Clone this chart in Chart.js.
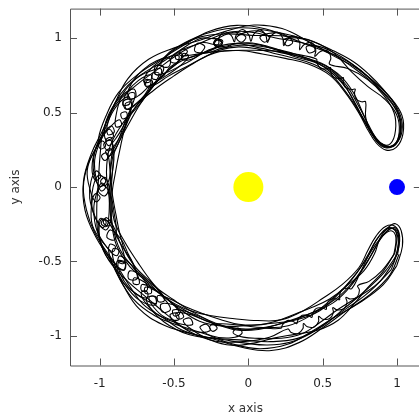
<!DOCTYPE html>
<html>
<head>
<meta charset="utf-8">
<script src="https://cdn.jsdelivr.net/npm/chart.js@4.4.0/dist/chart.umd.min.js"></script>
<style>
html, body { margin: 0; padding: 0; overflow: hidden; background: #fff; }
#wrap { width: 440px; height: 416px; }
</style>
</head>
<body>
<div id="wrap"><canvas id="orbitChart"></canvas></div>
<script>
// Readings: [angle from the sun in degrees, distance from the sun]
// one list per pass along the horseshoe (outer passes run clockwise, inner ones back)
const outerPass1 = [[336,1.11],[328,1.12],[318,1.09],[308,1.06],[298,1.07],[288,1.10],[278,1.11],[268,1.08],[258,1.05],[248,1.06],[238,1.09],[228,1.10],[218,1.07],[208,1.05],[198,1.08],[188,1.11],[178,1.11],[168,1.08],[158,1.05],[148,1.06],[138,1.09],[128,1.09],[118,1.06],[108,1.04],[98,1.06],[88,1.09],[78,1.09],[68,1.06],[58,1.05],[48,1.08],[40,1.10],[32,1.13],[25,1.14],[19,1.10],[15,1.03],[15,0.96],[19,0.91],[26,0.89]];
const innerPass1 = [[26,0.89],[34,0.895],[44,0.91],[54,0.93],[64,0.92],[74,0.90],[84,0.90],[94,0.92],[104,0.93],[114,0.91],[124,0.90],[134,0.91],[144,0.93],[154,0.92],[164,0.90],[174,0.90],[184,0.92],[194,0.93],[204,0.91],[214,0.90],[224,0.91],[234,0.93],[244,0.92],[254,0.90],[264,0.89],[274,0.90],[284,0.92],[294,0.91],[304,0.90],[314,0.91],[324,0.92],[332,0.91],[339,0.92],[344,0.96],[345,1.02],[342,1.07],[336,1.10]];
const outerPass2 = [[336,1.10],[328,1.08],[318,1.05],[308,1.04],[298,1.06],[288,1.07],[278,1.05],[268,1.03],[258,1.04],[248,1.07],[238,1.07],[228,1.04],[224.5,1.01],[226,0.98],[227.5,1.01],[224,1.04],[216,1.06],[208,1.03],[204.5,1.0],[206,0.97],[207.5,1.0],[204,1.03],[196,1.06],[188,1.05],[182,1.02],[178.5,0.99],[180,0.96],[181.5,0.99],[178,1.02],[170,1.05],[162,1.04],[156,1.01],[152.5,0.98],[154,0.95],[155.5,0.98],[152,1.01],[144,1.05],[136,1.05],[130,1.02],[126.5,0.99],[128,0.96],[129.5,0.99],[126,1.02],[118,1.05],[108,1.06],[98,1.04],[88,1.02],[78,1.04],[68,1.07],[58,1.07],[48,1.04],[40,1.05],[33,1.09],[26,1.11],[20,1.08],[16,1.02],[17,0.96],[21,0.92],[28,0.91]];
const innerPass2 = [[28,0.91],[36,0.92],[46,0.95],[56,0.97],[66,0.95],[76,0.93],[86,0.94],[96,0.97],[106,0.96],[114,0.94],[117.5,0.97],[116,1.0],[114.5,0.97],[118,0.94],[126,0.93],[134,0.95],[140,0.96],[143.5,0.99],[142,1.02],[140.5,0.99],[144,0.96],[152,0.94],[160,0.93],[166,0.95],[169.5,0.98],[168,1.01],[166.5,0.98],[170,0.95],[178,0.93],[186,0.94],[192,0.96],[195.5,0.99],[194,1.02],[192.5,0.99],[196,0.96],[204,0.94],[212,0.93],[218,0.95],[221.5,0.98],[220,1.01],[218.5,0.98],[222,0.95],[230,0.93],[240,0.94],[250,0.96],[260,0.95],[270,0.93],[280,0.93],[290,0.95],[300,0.96],[310,0.94],[320,0.93],[328,0.93],[336,0.94],[341,0.97],[343,1.01],[341,1.05],[335,1.08]];
const outerPass3 = [[335,1.08],[328,1.06],[322,1.03],[318,0.99],[317.1,1.02],[314.75,1.04],[312.4,1.02],[311.5,0.99],[310.6,1.02],[308.25,1.04],[305.9,1.02],[305,0.99],[304.1,1.02],[301.75,1.04],[299.4,1.02],[298.5,0.99],[297.6,1.02],[295.25,1.04],[292.9,1.02],[292,0.99],[291.1,1.02],[288.75,1.04],[286.4,1.02],[285.5,0.99],[278,1.02],[268,1.04],[258,1.06],[248,1.05],[238,1.02],[228,1.01],[218,1.03],[208,1.06],[198,1.06],[188,1.03],[178,1.01],[168,1.02],[158,1.05],[148,1.05],[138,1.02],[128,1.0],[118,1.01],[108,1.02],[102,0.98],[101.1,1.025],[98.75,1.055],[96.4,1.025],[95.5,0.98],[94.6,1.025],[92.25,1.06],[89.9,1.025],[89,0.98],[88.1,1.025],[85.75,1.06],[83.4,1.025],[82.5,0.98],[81.6,1.025],[79.25,1.06],[76.9,1.025],[76,0.98],[75.1,1.03],[72.75,1.06],[70.4,1.03],[69.5,0.985],[68.6,1.03],[66.25,1.06],[63.9,1.03],[63,0.985],[62.1,1.03],[59.75,1.06],[57.4,1.03],[56.5,0.99],[50,1.04],[42,1.08],[34,1.10],[27,1.10],[21,1.06],[17,1.0],[18,0.94],[23,0.91],[30,0.90]];
const innerPass3 = [[30,0.90],[38,0.91],[46,0.94],[54,0.96],[62,0.95],[70,0.93],[78,0.94],[86,0.96],[94,0.97],[100,0.96],[103.5,0.99],[102,1.02],[100.5,0.99],[104,0.96],[110,0.95],[116,0.96],[119.5,0.99],[118,1.02],[116.5,0.99],[120,0.96],[126,0.95],[132,0.94],[135.5,0.97],[134,1.0],[132.5,0.97],[136,0.94],[144,0.93],[154,0.95],[164,0.97],[174,0.96],[184,0.94],[194,0.95],[204,0.97],[214,0.96],[222,0.94],[225.5,0.97],[224,1.0],[222.5,0.97],[226,0.94],[232,0.93],[238,0.94],[241.5,0.97],[240,1.0],[238.5,0.97],[242,0.94],[248,0.93],[254,0.94],[257.5,0.97],[256,1.0],[254.5,0.97],[258,0.94],[266,0.93],[276,0.95],[286,0.97],[296,0.96],[306,0.94],[316,0.94],[324,0.96],[332,0.96],[339,0.95],[344,0.98],[346,1.02],[344,1.07],[339,1.11],[332,1.13]];
const outerPass4 = [[332,1.13],[324,1.12],[314,1.08],[304,1.05],[294,1.06],[284,1.09],[274,1.09],[264,1.06],[254,1.03],[244,1.04],[234,1.07],[224,1.08],[214,1.06],[206,1.04],[202.5,1.01],[204,0.98],[205.5,1.01],[202,1.04],[194,1.08],[186,1.06],[182.5,1.03],[184,1.0],[185.5,1.03],[182,1.06],[174,1.09],[166,1.06],[162.5,1.03],[164,1.0],[165.5,1.03],[162,1.06],[154,1.07],[144,1.08],[134,1.06],[124,1.04],[114,1.05],[104,1.08],[94,1.09],[84,1.07],[74,1.04],[64,1.04],[54,1.07],[46,1.09],[38,1.10],[31,1.12],[24,1.12],[19,1.08],[16,1.02],[16,0.96],[19,0.92],[25,0.90]];
const innerPass4 = [[25,0.90],[31,0.92],[36,0.975],[36.9,0.955],[39.25,0.935],[41.6,0.955],[42.5,0.975],[43.4,0.955],[45.75,0.935],[48.1,0.955],[49,0.975],[49.9,0.955],[52.25,0.935],[54.6,0.955],[55.5,0.975],[56.4,0.955],[58.75,0.935],[61.1,0.955],[62,0.975],[70,0.95],[80,0.93],[90,0.92],[100,0.93],[110,0.95],[120,0.96],[130,0.94],[140,0.92],[148,0.93],[151.5,0.96],[150,0.99],[148.5,0.96],[152,0.93],[158,0.92],[164,0.93],[167.5,0.96],[166,0.99],[164.5,0.96],[168,0.93],[176,0.92],[186,0.93],[196,0.95],[206,0.96],[216,0.94],[226,0.92],[236,0.91],[246,0.92],[256,0.94],[266,0.96],[276,0.955],[283,0.975],[283.9,0.955],[286.25,0.935],[288.6,0.955],[289.5,0.975],[290.4,0.955],[292.75,0.935],[295.1,0.955],[296,0.975],[296.9,0.955],[299.25,0.935],[301.6,0.955],[302.5,0.975],[303.4,0.955],[305.75,0.935],[308.1,0.955],[309,0.975],[309.9,0.955],[312.25,0.935],[314.6,0.955],[315.5,0.975],[322,0.95],[330,0.93],[337,0.93],[342,0.96],[344,1.0],[343,1.05],[338,1.09],[330,1.11]];
const outerPass5 = [[330,1.11],[322,1.08],[314,1.04],[306,1.02],[298,1.03],[290,1.05],[282,1.04],[274,1.02],[268,1.01],[264,0.985],[265.8,0.95],[267.5,0.985],[263.5,1.02],[256,1.03],[251,1.0],[253,0.965],[255,1.0],[250,1.035],[243,1.04],[238.5,1.01],[240.5,0.975],[242.2,1.01],[237.5,1.04],[232,1.03],[228,1.0],[229.8,0.965],[231.5,1.0],[227,1.03],[220,1.05],[214,1.04],[210,1.01],[211.8,0.975],[213.5,1.01],[209,1.04],[202,1.06],[196,1.05],[192,1.02],[193.8,0.985],[195.5,1.02],[191,1.05],[184,1.07],[178,1.06],[174,1.03],[175.8,0.995],[177.5,1.03],[173,1.06],[166,1.06],[160,1.04],[156,1.01],[157.8,0.975],[159.5,1.01],[155,1.04],[148,1.04],[143,1.01],[145,0.975],[146.8,1.01],[142,1.035],[136,1.03],[131,1.0],[133,0.97],[134.8,1.0],[130,1.03],[123,1.03],[118,1.0],[120,0.965],[121.8,1.0],[117,1.025],[110,1.02],[104,1.03],[96,1.05],[88,1.04],[80,1.02],[72,1.03],[64,1.05],[56,1.06],[48,1.07],[40,1.09],[33,1.11],[26,1.12],[20,1.09],[16,1.03],[16,0.97],[19,0.93],[26,0.905]];
const innerPass5 = [[26,0.905],[34,0.92],[42,0.95],[50,0.97],[58,0.965],[66,0.945],[74,0.94],[82,0.955],[90,0.97],[96,0.965],[100,0.95],[103.5,0.98],[102,1.01],[100.3,0.98],[104.5,0.955],[110,0.955],[114,0.97],[117.5,1.0],[115.8,1.03],[114.2,1.0],[118.5,0.97],[124,0.96],[128,0.94],[131.5,0.97],[129.8,1.0],[128.2,0.97],[132.5,0.94],[138,0.93],[144,0.94],[147.5,0.97],[145.8,1.0],[144.2,0.97],[148.5,0.94],[154,0.935],[160,0.95],[163.5,0.98],[161.8,1.01],[160.2,0.98],[164.5,0.95],[170,0.94],[176,0.935],[179.5,0.965],[177.8,0.995],[176.2,0.965],[180.5,0.935],[186,0.93],[192,0.945],[195.5,0.975],[193.8,1.005],[192.2,0.975],[196.5,0.945],[202,0.94],[208,0.95],[211.5,0.98],[209.8,1.01],[208.2,0.98],[212.5,0.95],[218,0.945],[224,0.935],[227.5,0.965],[225.8,0.995],[224.2,0.965],[228.5,0.935],[234,0.93],[240,0.945],[243.5,0.975],[241.8,1.005],[240.2,0.975],[244.5,0.945],[250,0.94],[258,0.95],[266,0.965],[274,0.96],[282,0.945],[290,0.94],[298,0.95],[306,0.965],[314,0.96],[322,0.95],[330,0.945],[337,0.95],[342,0.975],[344,1.01],[342,1.05],[336,1.08]];
const outerPass6 = [[336,1.08],[328,1.07],[320,1.05],[312,1.06],[304,1.08],[296,1.07],[288,1.04],[280,1.03],[272,1.05],[264,1.07],[256,1.06],[248,1.03],[244,1.0],[246,0.965],[247.8,1.0],[243,1.03],[236,1.05],[228,1.06],[220,1.04],[212,1.03],[204,1.05],[196,1.08],[188,1.10],[180,1.11],[172,1.09],[164,1.05],[156,1.04],[148,1.06],[140,1.06],[132,1.04],[124,1.02],[116,1.03],[108,1.05],[104,1.03],[100,1.0],[101.8,0.965],[103.5,1.0],[99,1.035],[95,1.045],[91,1.01],[92.8,0.975],[94.5,1.01],[90,1.045],[86,1.05],[82,1.015],[83.8,0.98],[85.5,1.015],[81,1.05],[77,1.055],[73,1.02],[74.8,0.985],[76.5,1.02],[72,1.055],[68,1.06],[64,1.025],[65.8,0.99],[67.5,1.025],[63,1.06],[58,1.07],[52,1.08],[45,1.09],[38,1.11],[31,1.13],[25,1.13],[20,1.10],[16.5,1.04],[16,0.98],[18,0.93],[23,0.905],[30,0.90]];
const innerPass6 = [[30,0.90],[38,0.905],[46,0.92],[54,0.94],[62,0.935],[70,0.92],[78,0.915],[86,0.93],[94,0.945],[102,0.94],[110,0.92],[118,0.91],[126,0.92],[132,0.93],[135.5,0.96],[133.8,0.99],[132.2,0.96],[136.5,0.93],[144,0.915],[152,0.91],[160,0.92],[168,0.935],[176,0.93],[184,0.915],[192,0.91],[200,0.92],[208,0.935],[216,0.93],[224,0.915],[230,0.92],[233.5,0.95],[231.8,0.98],[230.2,0.95],[234.5,0.92],[242,0.91],[250,0.905],[258,0.91],[266,0.925],[274,0.93],[282,0.92],[290,0.91],[298,0.915],[306,0.93],[314,0.935],[322,0.93],[330,0.925],[337,0.93],[342,0.955],[344,0.99],[343,1.04],[339,1.08],[333,1.10]];
const outerPass7 = [[333,1.10],[325,1.09],[317,1.07],[309,1.05],[301,1.05],[293,1.07],[285,1.08],[277,1.07],[269,1.05],[261,1.04],[253,1.05],[245,1.06],[238,1.05],[232,1.05],[227.5,1.015],[229.5,0.97],[231.7,1.01],[226.5,1.055],[220,1.06],[214,1.05],[209.5,1.015],[211.5,0.97],[213.7,1.01],[208.5,1.055],[202,1.065],[197,1.05],[192.5,1.015],[194.5,0.965],[196.7,1.005],[191.5,1.05],[186,1.06],[180,1.045],[175.5,1.01],[177.5,0.96],[179.7,1.0],[174.5,1.045],[168,1.06],[162,1.05],[157.5,1.015],[159.5,0.97],[161.7,1.01],[156.5,1.05],[150,1.06],[144,1.05],[139.5,1.015],[141.5,0.97],[143.7,1.01],[138.5,1.05],[132,1.06],[126,1.05],[121.5,1.015],[123.5,0.97],[125.7,1.01],[120.5,1.05],[114,1.06],[106,1.07],[98,1.075],[90,1.07],[82,1.06],[74,1.06],[66,1.07],[58,1.08],[50,1.10],[43,1.11],[36,1.12],[29,1.13],[23,1.11],[18,1.06],[16,1.0],[17.5,0.945],[22,0.91],[29,0.895]];
const innerPass7 = [[29,0.895],[37,0.91],[45,0.935],[53,0.95],[61,0.955],[69,0.95],[77,0.945],[85,0.95],[93,0.955],[101,0.95],[107,0.945],[111.5,0.98],[109.5,1.025],[107.3,0.985],[112.5,0.94],[119,0.935],[125,0.945],[129.5,0.98],[127.5,1.025],[125.3,0.985],[130.5,0.94],[137,0.93],[143,0.94],[147.5,0.975],[145.5,1.02],[143.3,0.98],[148.5,0.935],[155,0.925],[161,0.935],[165.5,0.97],[163.5,1.015],[161.3,0.975],[166.5,0.93],[173,0.92],[179,0.93],[183.5,0.965],[181.5,1.01],[179.3,0.97],[184.5,0.925],[191,0.92],[197,0.93],[201.5,0.965],[199.5,1.01],[197.3,0.97],[202.5,0.925],[209,0.925],[215,0.935],[219.5,0.97],[217.5,1.015],[215.3,0.975],[220.5,0.93],[227,0.93],[233,0.94],[237.5,0.975],[235.5,1.02],[233.3,0.98],[238.5,0.935],[245,0.935],[253,0.945],[261,0.95],[269,0.955],[277,0.95],[285,0.945],[293,0.945],[301,0.95],[309,0.955],[317,0.95],[325,0.945],[333,0.945],[339,0.955],[343,0.985],[344.5,1.025],[342,1.065],[337,1.09]];

const passes = [outerPass1, innerPass1, outerPass2, innerPass2, outerPass3, innerPass3,
    outerPass4, innerPass4, outerPass5, innerPass5, outerPass6, innerPass6,
    outerPass7, innerPass7];

const sunPosition = [0, 0];
const earthPosition = [1, 0];
const tickValues = [-1, -0.5, 0, 0.5, 1];

function toXY(pass) {
    return pass.map(([deg, r]) => ({
        x: r * Math.cos(deg * Math.PI / 180),
        y: r * Math.sin(deg * Math.PI / 180)
    }));
}

// gnuplot style frame with inward ticks
const frameTicks = {
    id: 'frameTicks',
    afterDatasetsDraw(chart) {
        const { ctx, chartArea: a, scales: { x, y } } = chart;
        const len = 7;
        ctx.save();
        ctx.strokeStyle = '#555';
        ctx.lineWidth = 1;
        ctx.beginPath();
        ctx.rect(a.left + 0.5, a.top + 0.5, a.right - a.left, a.bottom - a.top);
        tickValues.forEach(v => {
            const px = Math.round(x.getPixelForValue(v)) + 0.5;
            ctx.moveTo(px, a.bottom); ctx.lineTo(px, a.bottom - len);
            ctx.moveTo(px, a.top); ctx.lineTo(px, a.top + len);
            const py = Math.round(y.getPixelForValue(v)) + 0.5;
            ctx.moveTo(a.left, py); ctx.lineTo(a.left + len, py);
            ctx.moveTo(a.right, py); ctx.lineTo(a.right - len, py);
        });
        ctx.stroke();
        ctx.restore();
    }
};

const datasets = passes.map(pass => ({
    data: toXY(pass),
    showLine: true,
    borderColor: '#000',
    borderWidth: 1.1,
    pointRadius: 0,
    tension: 0.4,
    fill: false
}));

datasets.push({
    data: [{ x: sunPosition[0], y: sunPosition[1] }],
    pointRadius: 15,
    backgroundColor: '#ffff00',
    borderWidth: 0
});
datasets.push({
    data: [{ x: earthPosition[0], y: earthPosition[1] }],
    pointRadius: 8,
    backgroundColor: '#0000ff',
    borderWidth: 0
});

const font = { family: 'DejaVu Sans', size: 12 };
const plainLabel = v => String(v);

new Chart(document.getElementById('orbitChart'), {
    type: 'scatter',
    data: { datasets },
    options: {
        responsive: true,
        maintainAspectRatio: false,
        animation: false,
        layout: { autoPadding: false, padding: { top: 8.6, right: 19.2, left: 0, bottom: 0 } },
        plugins: {
            legend: { display: false },
            tooltip: { enabled: false }
        },
        scales: {
            x: {
                min: -1.2,
                max: 1.16,
                grid: { display: false, drawTicks: false },
                border: { display: false },
                ticks: { stepSize: 0.5, includeBounds: false, padding: 11, color: '#222', font, callback: plainLabel },
                title: { display: true, text: 'x axis', color: '#333', font, padding: { top: 0, bottom: 0 } },
                afterFit: s => {
                    s.height = 50.5;
                    s.paddingLeft = 0; s.paddingRight = 0;
                }
            },
            y: {
                min: -1.2,
                max: 1.2,
                grid: { display: false, drawTicks: false },
                border: { display: false },
                ticks: { stepSize: 0.5, includeBounds: false, padding: 8, color: '#222', font, callback: plainLabel },
                title: { display: true, text: 'y axis', color: '#333', font, padding: { top: 9, bottom: 0 } },
                afterFit: s => {
                    s.width = 70;
                    s.paddingTop = 0; s.paddingBottom = 0;
                }
            }
        }
    },
    plugins: [frameTicks]
});
</script>
</body>
</html>
